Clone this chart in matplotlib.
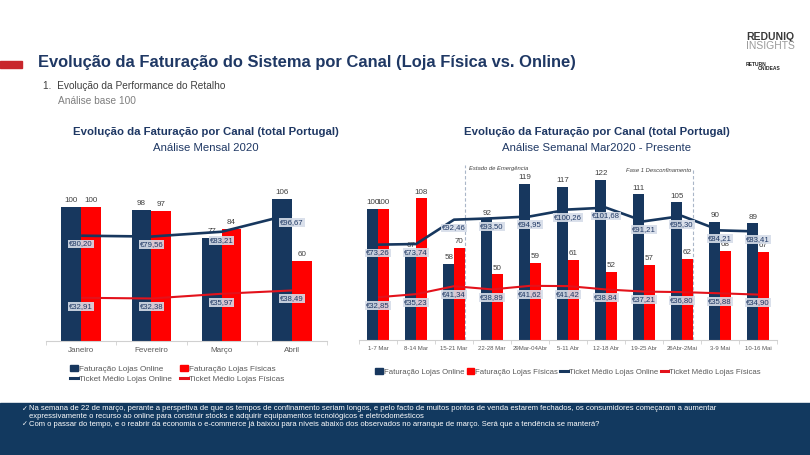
import numpy as np
import matplotlib
matplotlib.use('Agg')
import matplotlib.pyplot as plt
import matplotlib.patches as mpatches
from matplotlib.lines import Line2D
from matplotlib import font_manager

# --- dados -------------------------------------------------------------
meses = ['Janeiro', 'Fevereiro', 'Março', 'Abril']
mes_online = [100, 98, 77, 106]
mes_fisicas = [100, 97, 84, 60]
mes_ticket_online = [80.20, 79.56, 83.21, 96.67]
mes_ticket_fisicas = [32.91, 32.38, 35.97, 38.49]

semanas = ['1-7 Mar', '8-14 Mar', '15-21 Mar', '22-28 Mar', '29Mar-04Abr', '5-11 Abr',
           '12-18 Abr', '19-25 Abr', '26Abr-2Mai', '3-9 Mai', '10-16 Mai']
sem_online = [100, 67, 58, 92, 119, 117, 122, 111, 105, 90, 89]
sem_fisicas = [100, 108, 70, 50, 59, 61, 52, 57, 62, 68, 67]
sem_ticket_online = [73.26, 73.74, 92.46, 93.50, 94.95, 100.26, 101.68, 91.21, 95.30, 84.21, 83.41]
sem_ticket_fisicas = [32.85, 35.23, 41.34, 38.89, 41.62, 41.42, 38.84, 37.21, 36.80, 35.88, 34.90]

emergencia_x = 2.3   # marco "Estado de Emergência"
fase1_x = 8.3        # marco "Fase 1 Desconfinamento"

# --- estilo ------------------------------------------------------------
NAVY = '#17375e'
RED = '#ff0000'
RED_LINE = '#e3121b'
TXT = '#404040'
TITLE = '#1f3864'
BOX = '#d6dde9'

names = {f.name for f in font_manager.fontManager.ttflist}
NARROW = 'Liberation Sans Narrow' if 'Liberation Sans Narrow' in names else 'Liberation Sans'
plt.rcParams['font.family'] = ['Liberation Sans', 'DejaVu Sans']

W, H = 810, 455
fig = plt.figure(figsize=(W / 100, H / 100), dpi=100)


def px(x0, y0, x1, y1):
    # retângulo em píxeis (topo à esquerda) -> fração da figura
    return [x0 / W, 1 - y1 / H, (x1 - x0) / W, (y1 - y0) / H]


def fmt_eur(v):
    return '€' + f'{v:.2f}'.replace('.', ',')


def draw_chart(rect, cats, online, fisicas, t_online, t_fisicas, ylim, ylim2,
               val_fs, eur_fs, tick_fs):
    ax = fig.add_axes(rect)
    x = np.arange(len(cats))
    w = 0.28
    ax.bar(x - w / 2, online, w, color=NAVY, zorder=2)
    ax.bar(x + w / 2, fisicas, w, color=RED, zorder=2)
    for xi, v in zip(x, online):
        ax.annotate(str(v), (xi - w / 2, v), xytext=(0, 2), textcoords='offset points',
                    ha='center', va='bottom', fontsize=val_fs, color=TXT)
    for xi, v in zip(x, fisicas):
        ax.annotate(str(v), (xi + w / 2, v), xytext=(0, 2), textcoords='offset points',
                    ha='center', va='bottom', fontsize=val_fs, color=TXT)
    ax.set_xlim(-0.5, len(cats) - 0.5)
    ax.set_ylim(*ylim)
    ax.set_yticks([])
    ax.set_xticks(x)
    ax.set_xticklabels(cats, fontsize=tick_fs, color='#595959')
    ax.set_xticks(np.arange(len(cats) + 1) - 0.5, minor=True)
    ax.tick_params(axis='x', which='major', length=0, pad=4)
    ax.tick_params(axis='x', which='minor', length=3, color='#d0d0d0')
    for s in ['top', 'right', 'left']:
        ax.spines[s].set_visible(False)
    ax.spines['bottom'].set_color('#d0d0d0')
    ax.set_facecolor('none')

    ax2 = ax.twinx()
    ax2.set_ylim(*ylim2)
    ax2.axis('off')
    ax2.plot(x, t_online, color=NAVY, lw=1.9, zorder=3, solid_capstyle='butt')
    ax2.plot(x, t_fisicas, color=RED_LINE, lw=1.5, zorder=3, solid_capstyle='butt')
    for vals in (t_online, t_fisicas):
        for xi, v in zip(x, vals):
            ax2.annotate(fmt_eur(v), (xi, v), xytext=(0, -6), textcoords='offset points',
                         ha='center', va='center', fontsize=eur_fs, color=TITLE,
                         bbox=dict(boxstyle='square,pad=0.12', fc=BOX, ec='none', alpha=0.9))
    return ax, ax2


# --- cabeçalho ---------------------------------------------------------
fig.patches.append(mpatches.Rectangle((0, 1 - 68 / H), 22 / W, 7 / H, transform=fig.transFigure,
                                      color='#c8262c'))
fig.text(38 / W, 1 - 63 / H, 'Evolução da Faturação do Sistema por Canal (Loja Física vs. Online)',
         fontsize=11.9, fontweight='bold', color=TITLE, va='center')
fig.text(43 / W, 1 - 86 / H, '1.  Evolução da Performance do Retalho', family=NARROW,
         fontsize=7.3, color=TXT, va='center')
fig.text(58 / W, 1 - 101 / H, 'Análise base 100', family=NARROW, fontsize=7.3,
         color='#7f7f7f', va='center')

fig.text(746 / W, 1 - 37 / H, 'REDUNIQ', fontsize=7.5, fontweight='bold', color='#3a3a3a',
         va='center')
fig.text(746 / W, 1 - 46 / H, 'INSIGHTS', fontsize=7.5, color='#9a9a9a', va='center')
fig.text(746 / W, 1 - 64 / H, 'RETURN', fontsize=3.6, fontweight='bold', color='#222222',
         va='center')
fig.text(758 / W, 1 - 69 / H, 'ONIDEAS', fontsize=3.6, fontweight='bold', color='#222222',
         va='center')

# --- gráfico mensal ----------------------------------------------------
fig.text(206 / W, 1 - 132 / H, 'Evolução da Faturação por Canal (total Portugal)',
         fontsize=8.2, fontweight='bold', color=TITLE, ha='center', va='center')
fig.text(206 / W, 1 - 148 / H, 'Análise Mensal 2020', fontsize=8.2, color=TITLE,
         ha='center', va='center')
axl, axl2 = draw_chart(px(46, 187, 327, 341), meses, mes_online, mes_fisicas,
                       mes_ticket_online, mes_ticket_fisicas, (0, 115), (0, 117.3),
                       5.8, 5.6, 5.8)

# --- gráfico semanal ---------------------------------------------------
fig.text(597 / W, 1 - 132 / H, 'Evolução da Faturação por Canal (total Portugal)',
         fontsize=8.2, fontweight='bold', color=TITLE, ha='center', va='center')
fig.text(597 / W, 1 - 148 / H, 'Análise Semanal Mar2020 - Presente', fontsize=8.2, color=TITLE,
         ha='center', va='center')
axr, axr2 = draw_chart(px(359, 163, 777, 340), semanas, sem_online, sem_fisicas,
                       sem_ticket_online, sem_ticket_fisicas, (0, 135), (0, 136),
                       5.8, 5.6, 4.3)

axr.axvline(emergencia_x, ymin=0, ymax=0.99, color='#a9b6c8', lw=0.8, ls=(0, (3, 2)), zorder=1)
axr.axvline(fase1_x, ymin=0, ymax=0.97, color='#a9b6c8', lw=0.8, ls=(0, (3, 2)), zorder=1)
axr.text(emergencia_x + 0.1, 131, 'Estado de Emergência', fontsize=4.2, style='italic',
         color=TXT, ha='left', va='center')
axr.text(fase1_x - 0.06, 129, 'Fase 1 Desconfinamento', fontsize=4.2, style='italic',
         color=TXT, ha='right', va='center')

# --- legendas ----------------------------------------------------------
h_online = mpatches.Patch(color=NAVY, label='Faturação Lojas Online')
h_fis = mpatches.Patch(color=RED, label='Faturação Lojas Físicas')
h_t_online = Line2D([], [], color=NAVY, lw=2.2, label='Ticket Médio Lojas Online')
h_t_fis = Line2D([], [], color=RED_LINE, lw=2.2, label='Ticket Médio Lojas Físicas')

leg_kw = dict(frameon=False, handlelength=1.0, handleheight=0.8, handletextpad=0.1,
              labelcolor='#595959', borderaxespad=0)
fig.legend(handles=[h_online, h_t_online, h_fis, h_t_fis], ncol=2, fontsize=5.9,
           loc='center', bbox_to_anchor=(177 / W, 1 - 374 / H), columnspacing=0.9,
           labelspacing=0.3, **leg_kw)
fig.legend(handles=[h_online, h_fis, h_t_online, h_t_fis], ncol=4, fontsize=5.6,
           loc='center', bbox_to_anchor=(568 / W, 1 - 372 / H), columnspacing=0.3, **leg_kw)

# --- faixa de notas ----------------------------------------------------
fig.patches.append(mpatches.Rectangle((0, 0), 1, (H - 403) / H, transform=fig.transFigure,
                                      color='#12395f'))
notas = [
    (409, '✓', 'Na semana de 22 de março, perante a perspetiva de que os tempos de confinamento seriam longos, '
               'e pelo facto de muitos pontos de venda estarem fechados, os consumidores começaram a aumentar'),
    (416, '', 'expressivamente o recurso ao online para construir stocks e adquirir equipamentos tecnológicos '
              'e eletrodomésticos'),
    (424, '✓', 'Com o passar do tempo, e o reabrir da economia o e-commerce já baixou para níveis abaixo dos '
               'observados no arranque de março. Será que a tendência se manterá?'),
]
for y, mark, txt in notas:
    if mark:
        fig.text(22 / W, 1 - y / H, mark, fontsize=5, color='white', va='center',
                 family=['DejaVu Sans'])
    fig.text(29 / W, 1 - y / H, txt, fontsize=5.5, color='white', va='center', family=NARROW)

fig.savefig('out.png', dpi=100, facecolor='white')
